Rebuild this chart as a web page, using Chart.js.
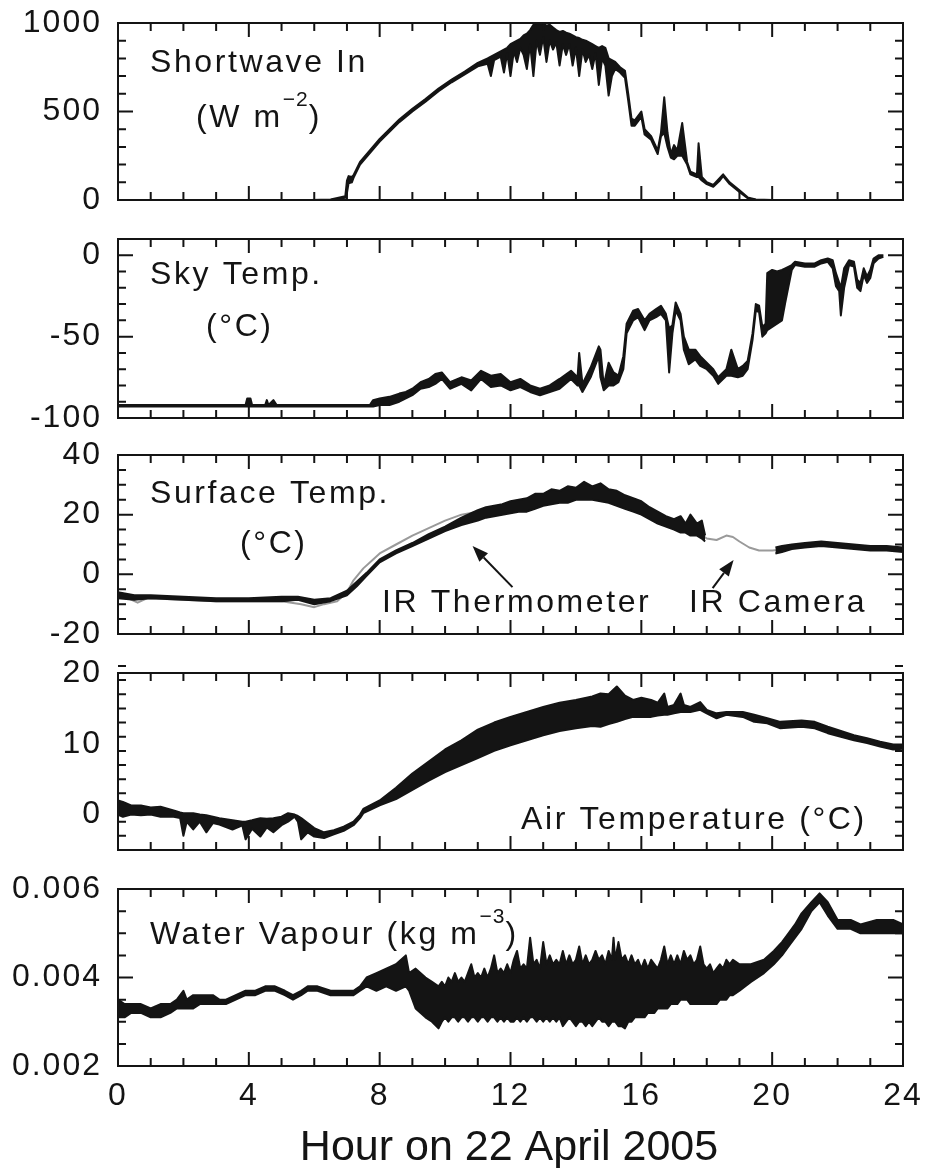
<!DOCTYPE html>
<html><head><meta charset="utf-8">
<script src="https://cdn.jsdelivr.net/npm/chart.js@4.4.0/dist/chart.umd.min.js"></script>
<style>
html,body{margin:0;padding:0;background:#fff;}
#wrap{position:relative;width:926px;height:1168px;background:#fff;}
canvas{position:absolute;left:0;top:0;}
</style></head><body><div id="wrap">
<canvas id="c1" width="926" height="1168"></canvas>
<canvas id="c2" width="926" height="1168"></canvas>
<canvas id="c3" width="926" height="1168"></canvas>
<canvas id="c4" width="926" height="1168"></canvas>
<canvas id="c5" width="926" height="1168"></canvas>
</div>
<script>
// ---------------- DATA ----------------
const hourTicks = [0, 4, 8, 12, 16, 20, 24];
const xTitle = 'Hour on 22 April 2005';

// Shortwave In (W m-2): lower / upper envelope of the trace
const swHour = [0,5.9,6.5,6.95,7.0,7.05,7.15,7.2,7.4,7.7,
  8.0,8.3,8.6,9.0,9.4,9.8,10.2,10.6,11.0,11.3,
  11.4,11.5,11.7,11.8,11.9,12.0,12.1,12.2,12.3,12.4,
  12.5,12.6,12.7,12.8,12.9,13.0,13.1,13.2,13.3,13.4,
  13.5,13.6,13.7,13.8,13.9,14.0,14.1,14.2,14.3,14.4,
  14.5,14.6,14.7,14.8,14.9,15.0,15.1,15.2,15.35,15.5,
  15.6,15.7,15.8,16.0,16.1,16.3,16.5,16.6,16.7,16.8,
  16.9,17.0,17.1,17.25,17.4,17.5,17.7,17.75,17.85,18.0,
  18.2,18.4,18.5,18.7,19.0,19.25,19.5,20,24];
const swLow = [0,0,0,12,40,95,100,125,200,265,
  330,385,440,500,555,615,665,710,755,770,
  700,790,810,720,830,700,840,780,860,820,
  740,880,700,900,820,920,780,900,850,890,
  760,880,820,880,760,860,700,850,780,820,
  740,830,650,800,760,590,700,740,720,690,
  560,420,420,470,370,340,260,360,380,300,
  240,230,250,250,200,145,130,130,110,90,
  75,110,135,90,45,10,0,0,0];
const swHigh = [0,0,3,22,110,135,130,140,215,280,
  345,400,455,515,570,630,680,725,775,800,
  810,820,840,850,860,880,890,900,910,930,
  940,960,990,1000,990,1000,985,990,975,960,
  950,955,945,940,930,920,915,905,900,890,
  880,870,860,870,860,800,790,780,750,730,
  600,460,450,500,400,360,280,380,580,380,
  260,310,280,435,215,160,145,320,130,100,
  85,125,145,100,55,15,3,0,0];
const swTicks = [0, 500, 1000];

// Sky temperature (°C)
const skyHour = [0,3.9,3.95,4.05,4.1,4.5,4.55,4.6,4.75,4.85,
  7.7,7.8,8.0,8.3,8.6,8.8,9.0,9.25,9.5,9.7,
  9.9,10.15,10.5,10.8,11.1,11.4,11.7,12.0,12.3,12.6,
  12.9,13.2,13.5,13.85,14.05,14.1,14.2,14.45,14.7,14.75,
  14.85,15.0,15.15,15.3,15.45,15.55,15.75,15.9,16.1,16.25,
  16.45,16.6,16.75,16.85,16.95,17.05,17.2,17.3,17.45,17.65,
  17.8,18.0,18.2,18.35,18.6,18.75,18.95,19.1,19.25,19.4,
  19.5,19.6,19.7,19.8,19.85,20.0,20.15,20.3,20.4,20.6,
  20.7,21.0,21.3,21.5,21.7,21.85,21.95,22.05,22.1,22.2,
  22.35,22.5,22.6,22.7,22.8,22.9,23.0,23.1,23.25,23.4];
const skyLow = [-93,-93,-93,-93,-93,-93,-93,-93,-93,-93,
  -93,-93,-92,-92,-90,-88,-86,-82,-81,-79,
  -76,-82,-79,-83,-76,-81,-80,-83,-81,-84,
  -86,-84,-82,-76,-80,-80,-84,-75,-62,-75,
  -83,-80,-80,-78,-70,-48,-40,-38,-46,-40,
  -38,-36,-40,-72,-48,-34,-40,-58,-67,-64,
  -68,-70,-74,-79,-74,-74,-75,-74,-70,-52,
  -34,-35,-50,-48,-46,-44,-42,-40,-29,-9,
  -6,-7,-7,-5,-4,-8,-19,-22,-37,-20,
  -6,-7,-20,-22,-12,-17,-14,-5,-2,-1];
const skyHigh = [-92,-92,-88,-88,-92,-92,-89,-92,-89,-92,
  -92,-89,-88,-87,-85,-84,-82,-78,-76,-73,
  -72,-78,-75,-77,-71,-74,-73,-78,-76,-80,
  -82,-80,-76,-71,-75,-60,-79,-69,-56,-58,
  -80,-66,-72,-74,-62,-42,-34,-33,-40,-36,
  -33,-31,-36,-45,-43,-29,-36,-50,-58,-58,
  -62,-66,-70,-75,-70,-58,-70,-68,-65,-48,
  -30,-31,-44,-42,-11,-9,-10,-9,-8,-6,
  -4,-5,-5,-3,-2,-3,-11,-17,-20,-8,
  -3,-4,-15,-17,-8,-13,-9,-2,0,0];
const skyTicks = [-100, -50, 0];

// Surface temperature (°C): IR thermometer (black band) and IR camera (grey)
const irtHour = [0,0.5,1,2,3,4,5,5.5,6.0,6.5,
  7.0,7.3,7.6,8.0,8.5,9.0,9.5,10.0,10.5,11.0,
  11.25,11.5,11.75,12.0,12.25,12.5,12.75,13.0,13.25,13.5,
  13.75,14.0,14.25,14.5,14.75,15.0,15.25,15.5,15.75,16.0,
  16.25,16.5,16.75,17.0,17.2,17.35,17.5,17.7,17.85,17.95,
  19,20.1,20.3,20.6,21.0,21.5,22.0,22.5,23.0,23.5,24];
const irtLow = [-8,-8.5,-8,-8.5,-9,-9,-9,-8.5,-10,-9,
  -7,-4,-0.5,4,7,9.5,12,14.5,16.5,18,
  19,19.5,20,20.5,21,21,22,23,23.5,24,
  24,25,25,25,24.5,24,23,22,21,20,
  18.5,17,16,15,14,14,13,13,12,11,
  null,7,7.5,8.5,9,9.5,9,8.5,8,8,7.5];
const irtHigh = [-6,-7,-7,-7.5,-8,-8,-7.5,-7.5,-8.5,-8,
  -5.5,-2.5,0.5,5,8,10.5,13.5,16,19,21.5,
  22.5,23,23.5,24.5,25,25.5,27,27,28.5,28,
  29.5,29,31,29.5,30.5,28.5,28,26.5,25.5,24.5,
  22.5,21,19.5,18.5,19.5,17,20,17,18,13,
  null,9,9.5,10,10.5,11,10.5,10,9.5,9.5,9];
const camHour = [0,0.3,0.6,0.9,2,3,4,5,5.6,6.0,
  6.3,6.7,7.0,7.2,7.5,7.8,8.0,8.5,9.0,9.5,
  10.0,10.5,11,12,13,14,15,16,17,17.5,
  18.0,18.3,18.6,18.8,19.0,19.3,19.6,20.0,20.5,21,
  22,23,24];
const camTemp = [-6,-8,-9.5,-8,-8.5,-9,-9,-9,-10,-11,
  -10,-9,-6,-2,2,5,7,10,13,15.5,
  18,20,21,22.5,25.5,27.5,27,23,17,16,
  12,11.5,13,12.5,11,9,8,8,8.5,9.5,
  9.5,8.5,8];
const surfTicks = [-20, 0, 20, 40];

// Air temperature (°C)
const airHour = [0,0.15,0.4,0.7,1.0,1.3,1.7,1.9,2.0,2.1,
  2.3,2.5,2.7,2.9,3.1,3.5,3.8,3.9,4.1,4.35,
  4.55,4.75,5.0,5.2,5.4,5.5,5.6,5.8,6.0,6.3,
  6.6,6.9,7.2,7.4,7.5,8.0,8.5,9.0,9.5,10.0,
  10.5,11.0,11.5,12.0,12.5,13.0,13.5,14.0,14.5,14.75,
  15.0,15.25,15.5,15.75,16.0,16.3,16.5,16.7,16.8,17.0,
  17.2,17.3,17.5,17.8,18.0,18.3,18.6,19.1,19.45,19.85,
  20.25,20.9,21.3,21.7,22.1,22.5,22.9,23.3,23.7,24];
const airLow = [0,-0.3,0,-0.1,0,-0.3,-0.3,-0.5,-3,-1,
  -2.1,-1,-2.5,-1.2,-1.4,-2.1,-1.5,-3.5,-2,-3.1,
  -1.8,-2.5,-1.5,-1,-0.3,-1,-3.5,-2.5,-3.1,-3.3,
  -2.8,-2.3,-1.5,-0.5,0.2,1.3,2.2,3.5,4.8,6,
  7,8,9,9.8,10.5,11.2,11.8,12.2,12.5,12.4,
  12.8,13.1,13.5,13.8,13.8,13.8,14,14.1,14.1,14.3,
  14.5,14.5,14.5,14.8,14.3,13.6,14.1,13.8,13.1,12.9,
  12.2,12.4,12.2,11.5,11,10.5,10.1,9.6,9.2,9.3];
const airHigh = [2,1.8,1.3,1.3,1,1.1,0.6,0.3,0.2,0.2,
  0.2,0,-0.1,-0.3,-0.5,-0.8,-1,-1,-0.8,-0.5,
  -0.6,-0.5,-0.3,0.2,0,-0.2,-0.5,-1.2,-1.9,-2.5,
  -2.2,-1.7,-1,0,0.8,2,3.8,5.8,7.5,9.2,
  10.5,12,13,13.8,14.5,15.2,15.8,16.2,16.7,17.1,
  17,18.1,16.8,16.2,16.5,16.2,15.8,17.1,15.2,15.5,
  17.1,15.5,15.2,15.9,14.8,14.3,14.5,14.5,14.1,13.6,
  13.1,13.3,13.1,12.4,11.8,11.2,10.8,10.3,9.9,9.9];
const airTicks = [0, 10, 20];

// Water vapour (kg m-3)
const wvHour = [0,0.2,0.4,0.7,1.0,1.3,1.6,1.8,2.0,2.1,
  2.3,2.5,2.7,2.9,3.1,3.3,3.6,3.9,4.2,4.5,
  4.8,5.1,5.35,5.6,5.8,6.1,6.5,6.9,7.2,7.4,
  7.6,7.9,8.2,8.5,8.8,8.9,9.1,9.4,9.6,9.8,
  9.9,10.0,10.1,10.2,10.3,10.4,10.5,10.6,10.7,10.8,
  10.9,11.0,11.1,11.2,11.3,11.4,11.5,11.6,11.7,11.8,
  11.9,12.0,12.1,12.2,12.3,12.4,12.5,12.6,12.7,12.8,
  12.9,13.0,13.1,13.2,13.3,13.4,13.5,13.6,13.7,13.8,
  13.9,14.0,14.1,14.2,14.3,14.4,14.5,14.6,14.7,14.8,
  14.9,15.0,15.1,15.15,15.2,15.3,15.4,15.5,15.6,15.7,
  15.8,15.9,16.0,16.1,16.2,16.3,16.4,16.5,16.6,16.7,
  16.8,16.9,17.0,17.1,17.2,17.3,17.4,17.5,17.6,17.7,
  17.8,17.9,18.0,18.1,18.2,18.3,18.4,18.5,18.6,18.7,
  18.8,19.0,19.35,19.75,20.05,20.3,20.5,20.7,20.9,21.2,
  21.45,21.7,22.0,22.4,22.7,23.2,23.7,24];
const wvLow = [.0031,.0031,.0032,.0032,.0031,.0031,.0032,.0033,.0033,.0033,
  .0033,.0034,.0034,.0034,.0034,.0034,.0035,.0036,.0036,.0037,
  .0037,.0036,.0035,.0036,.0037,.0037,.0036,.0036,.0036,.0037,
  .0038,.0037,.0038,.0037,.0038,.0037,.0033,.0031,.0030,.00285,
  .0030,.0031,.0030,.0031,.0031,.0030,.0031,.0031,.0030,.0031,
  .0031,.0030,.0031,.0031,.0030,.0031,.0031,.0030,.0031,.0030,
  .0031,.0030,.0030,.0031,.0030,.0031,.0030,.0031,.0031,.0030,
  .0031,.0030,.0031,.0030,.0031,.0030,.0031,.0029,.0030,.0031,
  .0030,.0029,.0030,.0030,.0029,.0030,.0029,.0030,.0031,.0030,
  .0030,.0029,.0030,.0030,.0030,.0029,.0029,.00285,.0030,.0030,
  .0031,.0031,.0031,.0031,.0032,.0032,.0032,.0033,.0033,.0033,
  .0033,.0034,.0034,.0034,.0035,.0035,.0035,.0034,.0034,.0034,
  .0034,.0034,.0034,.0034,.0034,.0034,.0035,.0035,.0035,.0036,
  .0036,.0037,.0039,.0041,.0043,.0045,.0047,.0049,.0051,.0055,
  .0057,.0054,.0051,.0051,.0050,.0050,.0050,.0050];
const wvHigh = [.0035,.0034,.0034,.0034,.0033,.0034,.0034,.0035,.0037,.0035,
  .0036,.0036,.0036,.0036,.0035,.0035,.0036,.0037,.0037,.0038,
  .0038,.0037,.0036,.0037,.0038,.0038,.0037,.0037,.0037,.0038,
  .0040,.0041,.0042,.0043,.0045,.0041,.0042,.0040,.0039,.0038,
  .0039,.0038,.0040,.0039,.0041,.0039,.0040,.0039,.0041,.0043,
  .0040,.0041,.0040,.0042,.0040,.0042,.0045,.0041,.0042,.0041,
  .0043,.0041,.0044,.0046,.0042,.0043,.0042,.0049,.0043,.0044,
  .0042,.0048,.0043,.0045,.0043,.0044,.0043,.0046,.0043,.0045,
  .0043,.0044,.0047,.0043,.0045,.0043,.0044,.0046,.0044,.0045,
  .0043,.0046,.0044,.0049,.0044,.0048,.0044,.0045,.0043,.0045,
  .0043,.0044,.0042,.0044,.0042,.0044,.0043,.0042,.0044,.0047,
  .0043,.0045,.0043,.0045,.0043,.0046,.0044,.0045,.0043,.0044,
  .0047,.0043,.0042,.0043,.0041,.0042,.0043,.0042,.0044,.0043,
  .0044,.0043,.0043,.0044,.0046,.0048,.0050,.0052,.00545,.0057,
  .0059,.0057,.0053,.0053,.0052,.0053,.0053,.0052];
const wvTicks = [0.002, 0.004, 0.006];

// ---------------- STYLE / LAYOUT ----------------
const FONT = '"Liberation Sans", Arial, Helvetica, sans-serif';
const INK = '#141414';
const GREY = '#9a9a9a';
const W = 926, H = 1168, PLOT_L = 118, PLOT_R = 903;

function pts(h, v) { return h.map((x, i) => ({x: x, y: v[i]})); }
function band(hour, low, high, color, width) {
  return [
    {data: pts(hour, high), borderColor: color, borderWidth: width, fill: false, pointRadius: 0, tension: 0, borderJoinStyle: 'round', spanGaps: false},
    {data: pts(hour, low), borderColor: color, borderWidth: width, backgroundColor: color, fill: '-1', pointRadius: 0, tension: 0, borderJoinStyle: 'round', spanGaps: false}
  ];
}
function line(hour, vals, color, width) {
  return {data: pts(hour, vals), borderColor: color, borderWidth: width, fill: false, pointRadius: 0, tension: 0, borderJoinStyle: 'round'};
}
const fmtInt = v => String(v);

const panels = [
  {id: 'c1', top: 23, bottom: 200, min: 0, max: 1000, ticks: swTicks, minor: 100, major: 500, fmt: fmtInt,
   datasets: band(swHour, swLow, swHigh, INK, 2),
   labels: [
     {x: 150, y: 72, parts: [{t: 'Shortwave In'}]},
     {x: 196, y: 127, parts: [{t: '(W m'}, {t: '\u22122', size: 21, dy: -21, sp: 1}, {t: ')'}]}
   ]},
  {id: 'c2', top: 239, bottom: 418, min: -100, max: 10, ticks: skyTicks, minor: 10, major: 50, fmt: fmtInt,
   datasets: band(skyHour, skyLow, skyHigh, INK, 2),
   labels: [
     {x: 150, y: 284, parts: [{t: 'Sky Temp.'}]},
     {x: 206, y: 336, parts: [{t: '(\u00B0C)'}]}
   ]},
  {id: 'c3', top: 455, bottom: 634, min: -20, max: 40, ticks: surfTicks, minor: 5, major: 20, fmt: fmtInt,
   datasets: band(irtHour, irtLow, irtHigh, INK, 2).concat([line(camHour, camTemp, GREY, 2)]),
   labels: [
     {x: 150, y: 503, parts: [{t: 'Surface Temp.'}]},
     {x: 240, y: 553, parts: [{t: '(\u00B0C)'}]},
     {x: 382, y: 612, parts: [{t: 'IR Thermometer'}]},
     {x: 689, y: 612, parts: [{t: 'IR Camera'}]}
   ],
   arrows: [{from: [12.06, -4.3], to: [10.84, 9.5]}, {from: [18.18, -4.6], to: [18.82, 4.8]}]},
  {id: 'c4', top: 673, bottom: 850, min: -5, max: 20, ticks: airTicks, minor: 2, major: 10, fmt: fmtInt,
   datasets: band(airHour, airLow, airHigh, INK, 2),
   labels: [
     {x: 521, y: 829, parts: [{t: 'Air Temperature (\u00B0C)'}]}
   ]},
  {id: 'c5', top: 889, bottom: 1066, min: 0.002, max: 0.006, ticks: wvTicks, minor: 0.0005, major: 0.002, fmt: v => v.toFixed(3),
   xAxis: true,
   datasets: band(wvHour, wvLow, wvHigh, INK, 2),
   labels: [
     {x: 150, y: 944, parts: [{t: 'Water Vapour (kg m'}, {t: '\u22123', size: 21, dy: -21, sp: 1}, {t: ')'}]}
   ],
   title: {text: xTitle, x: 509, y: 1160, size: 43}}
];

const LABEL_SIZE = 32, LABEL_SP = 2.6;

function drawLabel(ctx, L) {
  let x = L.x;
  ctx.textAlign = 'left';
  ctx.textBaseline = 'alphabetic';
  for (const s of L.parts) {
    const size = s.size || LABEL_SIZE;
    ctx.font = size + 'px ' + FONT;
    ctx.letterSpacing = (s.sp !== undefined ? s.sp : LABEL_SP) + 'px';
    ctx.fillText(s.t, x, L.y + (s.dy || 0));
    x += ctx.measureText(s.t).width;
  }
}

function makeDecor(P) {
  return {
    id: 'decor',
    beforeDraw(chart) { chart.ctx.letterSpacing = '2px'; },
    afterDraw(chart) {
      const ctx = chart.ctx, a = chart.chartArea, xs = chart.scales.x, ys = chart.scales.y;
      ctx.save();
      ctx.letterSpacing = '0px';
      ctx.strokeStyle = INK; ctx.fillStyle = INK; ctx.lineWidth = 2;
      ctx.strokeRect(a.left, a.top, a.right - a.left, a.bottom - a.top);
      ctx.beginPath();
      for (let h = 0; h <= 24; h++) {
        const px = xs.getPixelForValue(h);
        const len = h % 4 === 0 ? 14 : 8;
        ctx.moveTo(px, a.top); ctx.lineTo(px, a.top + len);
        ctx.moveTo(px, a.bottom); ctx.lineTo(px, a.bottom - len);
      }
      const n = Math.round((P.max - P.min) / P.minor);
      for (let k = 0; k <= n; k++) {
        const v = P.min + k * P.minor;
        const r = v / P.major;
        const major = Math.abs(r - Math.round(r)) < 1e-6;
        const py = ys.getPixelForValue(v);
        const len = major ? 15 : 8;
        ctx.moveTo(a.left, py); ctx.lineTo(a.left + len, py);
        ctx.moveTo(a.right, py); ctx.lineTo(a.right - len, py);
      }
      ctx.stroke();
      (P.arrows || []).forEach(A => {
        const x1 = xs.getPixelForValue(A.from[0]), y1 = ys.getPixelForValue(A.from[1]);
        const x2 = xs.getPixelForValue(A.to[0]), y2 = ys.getPixelForValue(A.to[1]);
        const ang = Math.atan2(y2 - y1, x2 - x1), hl = 16, hw = 6;
        const bx = x2 - hl * Math.cos(ang), by = y2 - hl * Math.sin(ang);
        ctx.beginPath(); ctx.moveTo(x1, y1); ctx.lineTo(bx, by); ctx.stroke();
        ctx.beginPath();
        ctx.moveTo(x2, y2);
        ctx.lineTo(bx + hw * Math.sin(ang), by - hw * Math.cos(ang));
        ctx.lineTo(bx - hw * Math.sin(ang), by + hw * Math.cos(ang));
        ctx.closePath(); ctx.fill();
      });
      (P.labels || []).forEach(L => drawLabel(ctx, L));
      if (P.title) {
        ctx.letterSpacing = '0px';
        ctx.font = P.title.size + 'px ' + FONT;
        ctx.textAlign = 'center';
        ctx.textBaseline = 'alphabetic';
        ctx.fillText(P.title.text, P.title.x, P.title.y);
      }
      ctx.restore();
    }
  };
}

panels.forEach(P => {
  new Chart(document.getElementById(P.id), {
    type: 'line',
    data: {datasets: P.datasets},
    plugins: [makeDecor(P)],
    options: {
      responsive: false, animation: false, devicePixelRatio: 1, events: [],
      layout: {padding: {top: P.top, bottom: P.xAxis ? 0 : H - P.bottom, left: 0, right: W - PLOT_R}},
      plugins: {legend: {display: false}, tooltip: {enabled: false}},
      scales: {
        x: {type: 'linear', min: 0, max: 24, display: !!P.xAxis,
            grid: {display: false, drawTicks: false}, border: {display: false},
            afterBuildTicks: s => { s.ticks = hourTicks.map(v => ({value: v})); },
            afterFit: s => {
              s.paddingLeft = 0; s.paddingRight = 0;
              s.height = P.xAxis ? H - P.bottom : 0;
            },
            ticks: {font: {family: FONT, size: 32}, color: INK, padding: 11, maxRotation: 0, autoSkip: false,
                    callback: v => String(v)}},
        y: {type: 'linear', min: P.min, max: P.max,
            grid: {display: false, drawTicks: false}, border: {display: false},
            afterBuildTicks: s => { s.ticks = P.ticks.map(v => ({value: v})); },
            afterFit: s => { s.width = PLOT_L; s.paddingTop = 0; s.paddingBottom = 0; },
            ticks: {font: {family: FONT, size: 32}, color: INK, padding: 16, autoSkip: false,
                    callback: P.fmt}}
      }
    }
  });
});
</script>
</body></html>
